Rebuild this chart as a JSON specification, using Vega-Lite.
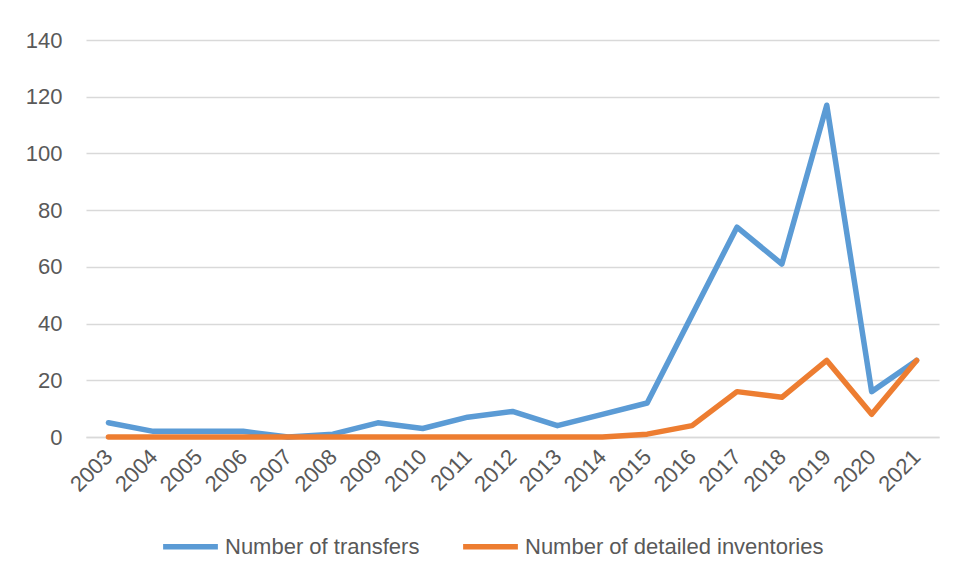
{
  "$schema": "https://vega.github.io/schema/vega-lite/v6.json",
  "width": 853,
  "height": 397,
  "autosize": {"type": "none"},
  "padding": {"left": 86, "top": 40, "right": 15, "bottom": 140},
  "background": "white",
  "config": {
    "font": "Liberation Sans",
    "view": {"stroke": null},
    "axis": {"labelFont": "Liberation Sans", "labelColor": "#595959", "labelFontSize": 22}
  },
  "data": {
    "values": [
      {"year": "2003", "series": "Number of transfers", "value": 5},
      {"year": "2004", "series": "Number of transfers", "value": 2},
      {"year": "2005", "series": "Number of transfers", "value": 2},
      {"year": "2006", "series": "Number of transfers", "value": 2},
      {"year": "2007", "series": "Number of transfers", "value": 0},
      {"year": "2008", "series": "Number of transfers", "value": 1},
      {"year": "2009", "series": "Number of transfers", "value": 5},
      {"year": "2010", "series": "Number of transfers", "value": 3},
      {"year": "2011", "series": "Number of transfers", "value": 7},
      {"year": "2012", "series": "Number of transfers", "value": 9},
      {"year": "2013", "series": "Number of transfers", "value": 4},
      {"year": "2014", "series": "Number of transfers", "value": 8},
      {"year": "2015", "series": "Number of transfers", "value": 12},
      {"year": "2016", "series": "Number of transfers", "value": 43},
      {"year": "2017", "series": "Number of transfers", "value": 74},
      {"year": "2018", "series": "Number of transfers", "value": 61},
      {"year": "2019", "series": "Number of transfers", "value": 117},
      {"year": "2020", "series": "Number of transfers", "value": 16},
      {"year": "2021", "series": "Number of transfers", "value": 27},
      {"year": "2003", "series": "Number of detailed inventories", "value": 0},
      {"year": "2004", "series": "Number of detailed inventories", "value": 0},
      {"year": "2005", "series": "Number of detailed inventories", "value": 0},
      {"year": "2006", "series": "Number of detailed inventories", "value": 0},
      {"year": "2007", "series": "Number of detailed inventories", "value": 0},
      {"year": "2008", "series": "Number of detailed inventories", "value": 0},
      {"year": "2009", "series": "Number of detailed inventories", "value": 0},
      {"year": "2010", "series": "Number of detailed inventories", "value": 0},
      {"year": "2011", "series": "Number of detailed inventories", "value": 0},
      {"year": "2012", "series": "Number of detailed inventories", "value": 0},
      {"year": "2013", "series": "Number of detailed inventories", "value": 0},
      {"year": "2014", "series": "Number of detailed inventories", "value": 0},
      {"year": "2015", "series": "Number of detailed inventories", "value": 1},
      {"year": "2016", "series": "Number of detailed inventories", "value": 4},
      {"year": "2017", "series": "Number of detailed inventories", "value": 16},
      {"year": "2018", "series": "Number of detailed inventories", "value": 14},
      {"year": "2019", "series": "Number of detailed inventories", "value": 27},
      {"year": "2020", "series": "Number of detailed inventories", "value": 8},
      {"year": "2021", "series": "Number of detailed inventories", "value": 27}
    ]
  },
  "mark": {"type": "line", "strokeWidth": 5.5, "strokeCap": "round", "strokeJoin": "round"},
  "encoding": {
    "x": {
      "field": "year",
      "type": "ordinal",
      "scale": {"type": "point", "padding": 0.5},
      "axis": {
        "title": null,
        "labelAngle": -45,
        "labelAlign": "right",
        "labelBaseline": "middle",
        "labelPadding": 16,
        "ticks": false,
        "domainColor": "#D9D9D9",
        "domainWidth": 1.5,
        "grid": false
      }
    },
    "y": {
      "field": "value",
      "type": "quantitative",
      "scale": {"domain": [0, 140], "nice": false},
      "axis": {
        "title": null,
        "values": [0, 20, 40, 60, 80, 100, 120, 140],
        "domain": false,
        "ticks": false,
        "labelPadding": 24,
        "gridColor": "#D9D9D9",
        "gridWidth": 1.5
      }
    },
    "color": {
      "field": "series",
      "type": "nominal",
      "sort": ["Number of transfers", "Number of detailed inventories"],
      "scale": {"domain": ["Number of transfers", "Number of detailed inventories"], "range": ["#5B9BD5", "#ED7D31"]},
      "legend": {
        "title": null,
        "orient": "none",
        "direction": "horizontal",
        "legendX": 74,
        "legendY": 476,
        "symbolType": "stroke",
        "symbolSize": 3000,
        "symbolStrokeWidth": 5.5,
        "labelFont": "Liberation Sans",
        "labelFontSize": 22,
        "labelColor": "#595959",
        "labelOffset": 4,
        "columnPadding": 32,
        "labelLimit": 400
      }
    }
  }
}
